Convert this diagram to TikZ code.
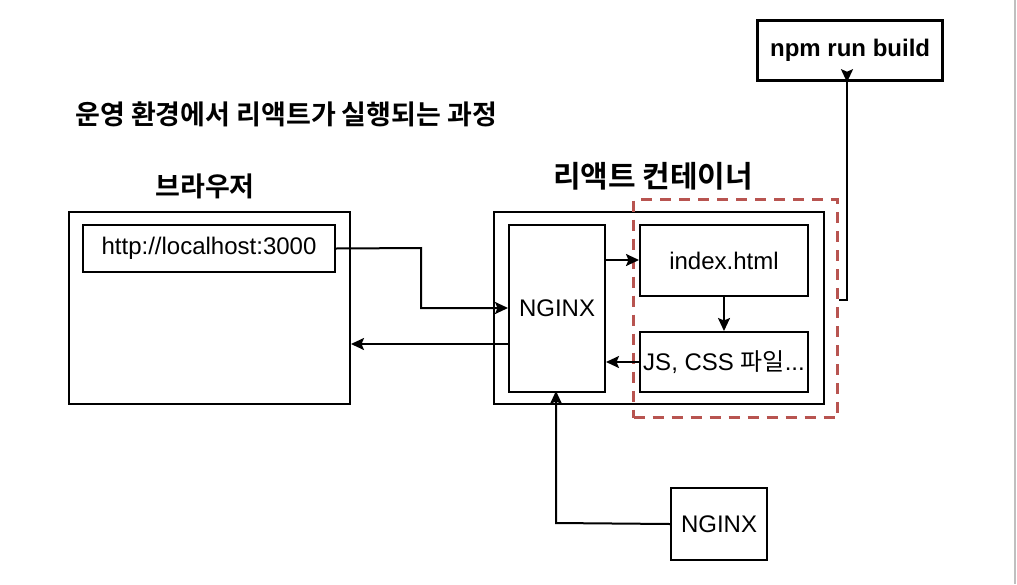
\documentclass[tikz,border=0pt]{standalone}
\usepackage{fontspec}
\setmainfont{Liberation Sans}
\newfontfamily\kr{Noto Sans CJK KR}[BoldFont={Noto Sans CJK KR Bold}]
\usetikzlibrary{arrows.meta}
\definecolor{dashred}{HTML}{B85450}
\tikzset{
  box/.style={draw, line width=2pt, inner sep=0pt, anchor=north west},
  conn/.style={draw=black, line width=2pt, -{Stealth[length=13pt,width=12pt,inset=2.5pt]}},
  lbl/.style={font=\fontsize{24}{26}\selectfont}
}
\begin{document}
\begin{tikzpicture}[x=1pt,y=-1pt]
\useasboundingbox (0,0) rectangle (1017,584);
\fill[white] (0,0) rectangle (1017,584);
\draw[gray!50, line width=1.5pt] (1015,0) -- (1015,584);
% titles
\node[anchor=west, font=\kr\bfseries\fontsize{27}{30}\selectfont, inner sep=0pt] (title) at (75,114) {운영 환경에서 리액트가 실행되는 과정};
\node[font=\kr\bfseries\fontsize{27}{30}\selectfont] (tb) at (205,186) {브라우저};
\node[font=\kr\bfseries\fontsize{30}{33}\selectfont] (tc) at (653,176) {리액트 컨테이너};
% browser
\node[box, minimum width=281pt, minimum height=192pt] (browser) at (68,211) {};
\node[box, minimum width=252pt, minimum height=47pt] (url) at (82,224) {};
\node[lbl] at (url.center) {http://localhost:3000};
% container
\node[box, minimum width=330pt, minimum height=192pt] (cont) at (493,211) {};
\node[box, minimum width=96pt, minimum height=167pt] (ngx) at (508,224) {};
\node[lbl] at (ngx.center) {NGINX};
\node[box, minimum width=168pt, minimum height=71pt] (idx) at (639,224) {};
\node[lbl] at (idx.center) {index.html};
\node[box, minimum width=168pt, minimum height=60pt] (js) at (639,331) {};
\node[lbl] at (js.center) {JS, CSS {\kr 파일}...};
% dashed group
\node[draw=dashred, line width=3pt, dash pattern=on 11pt off 8pt, minimum width=204pt, minimum height=218pt, inner sep=0pt, anchor=north west] (grp) at (632,198) {};
% npm run build
\node[box, line width=3.2pt, minimum width=185pt, minimum height=60pt] (npm) at (756,19) {};
\node[font=\bfseries\fontsize{24}{26}\selectfont] at (npm.center) {npm run build};
% nginx source
\node[box, minimum width=96pt, minimum height=72pt] (ngsrc) at (670,487) {};
\node[lbl] at (ngsrc.center) {NGINX};
% connectors
\draw[conn] (url.east) -- (421,248) |- (ngx.west |- 0,308);
\draw[conn] (ngx.west |- 0,344) -- (browser.east |- 0,344);
\draw[conn] (ngx.east |- 0,260) -- (idx.west |- 0,260);
\draw[conn] (idx.south) -- (js.north);
\draw[conn] (js.west |- 0,362) -- (ngx.east |- 0,362);
\draw[conn] (grp.east |- 0,300) -- (847,300) -- (847,79) -- (npm.south -| 847,0);
\draw[conn] (ngsrc.west) -- (556,523) -- (556,391);
\end{tikzpicture}
\end{document}
